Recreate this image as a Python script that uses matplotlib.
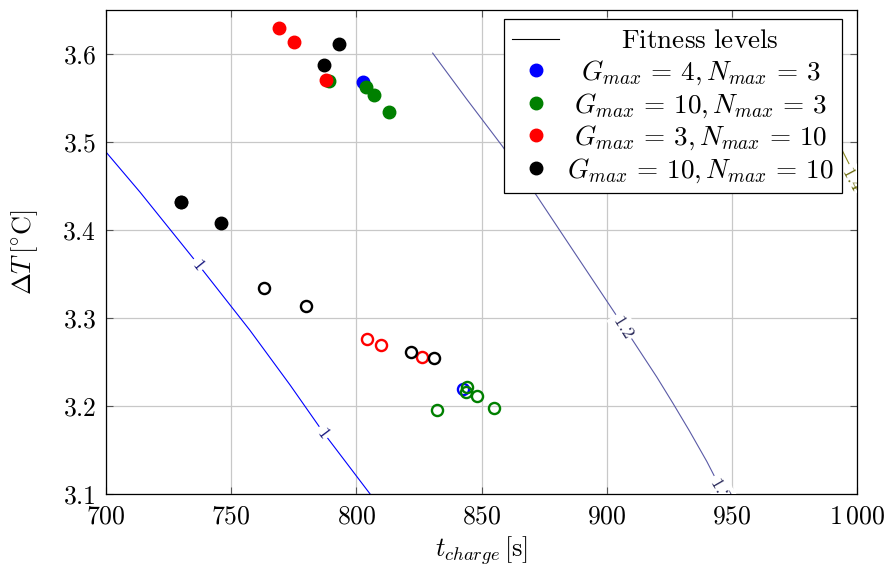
import numpy as np
import matplotlib.pyplot as plt
from matplotlib.lines import Line2D
from matplotlib.ticker import FuncFormatter

plt.rcParams['mathtext.fontset'] = 'cm'
plt.rcParams['font.family'] = ['DejaVu Serif']

# fitness contour lines
lvl1_x = [700, 713.6, 736.8, 757.5, 773.5, 786.8, 805.5]
lvl1_y = [3.4886, 3.443, 3.361, 3.286, 3.224, 3.170, 3.100]
lvl12_x = [830.5, 844.0, 858.4, 871.8, 887.0, 903.4, 920.0, 926.5, 933.0, 940.0, 946.7]
lvl12_y = [3.601, 3.549, 3.495, 3.440, 3.375, 3.305, 3.233, 3.203, 3.172, 3.137, 3.100]
lvl14_x = [975.0, 994.0, 1004.0]
lvl14_y = [3.600, 3.491, 3.435]
level_labels = [
    (736.8, 3.361, '1', -51, '#1a1a80'),
    (786.8, 3.170, '1', -53, '#1a1a80'),
    (906.7, 3.290, '1.2', -58, '#2c2c5c'),
    (945.5, 3.106, '1.2', -60, '#2c2c5c'),
    (998.0, 3.458, '1.4', -62, '#6b6b10'),
]

# optimisation results: filled = one set, hollow = other set
blue_fill_x, blue_fill_y = [802.8], [3.568]
blue_open_x, blue_open_y = [842.8], [3.219]
green_fill_x = [789.2, 803.9, 807.0, 813.1]
green_fill_y = [3.569, 3.563, 3.553, 3.534]
green_open_x = [844.1, 843.8, 848.1, 855.0, 832.1]
green_open_y = [3.222, 3.216, 3.211, 3.198, 3.196]
red_fill_x = [769.1, 775.0, 787.9]
red_fill_y = [3.630, 3.614, 3.571]
red_open_x = [804.1, 809.9, 826.1]
red_open_y = [3.276, 3.269, 3.256]
black_fill_x = [730.0, 745.9, 787.0, 793.0]
black_fill_y = [3.432, 3.408, 3.587, 3.611]
black_open_x = [730.0, 763.0, 779.9, 821.7, 831.0]
black_open_y = [3.432, 3.334, 3.314, 3.261, 3.255]

series = [
    ('blue', blue_fill_x, blue_fill_y, blue_open_x, blue_open_y, r'$G_{max} \,=\, 4, N_{max} \,=\, 3$'),
    ('green', green_fill_x, green_fill_y, green_open_x, green_open_y, r'$G_{max} \,=\, 10, N_{max} \,=\, 3$'),
    ('red', red_fill_x, red_fill_y, red_open_x, red_open_y, r'$G_{max} \,=\, 3, N_{max} \,=\, 10$'),
    ('black', black_fill_x, black_fill_y, black_open_x, black_open_y, r'$G_{max} \,=\, 10, N_{max} \,=\, 10$'),
]
colors = {'blue': '#0000ff', 'green': '#008000', 'red': '#ff0000', 'black': '#000000'}

fig = plt.figure(figsize=(8.9, 5.69), dpi=100)
ax = fig.add_axes([106 / 890, 1 - 494 / 569, 751 / 890, 484 / 569])

ax.plot(lvl1_x, lvl1_y, color='#0000ff', lw=0.8, zorder=2)
ax.plot(lvl12_x, lvl12_y, color='#5a5aa6', lw=0.8, zorder=2)
ax.plot(lvl14_x, lvl14_y, color='#8a8a20', lw=0.8, zorder=2)
for x, y, s, rot, c in level_labels:
    ax.text(x, y, '$' + s + '$', rotation=rot, color=c, fontsize=13,
            ha='center', va='center', rotation_mode='anchor', clip_on=True, zorder=3,
            bbox=dict(facecolor='white', edgecolor='none', pad=1.5))

handles = [Line2D([], [], color='black', lw=0.8)]
labels = [r'$\mathrm{Fitness\ levels}$']
for name, fx, fy, ox, oy, lab in series:
    c = colors[name]
    h, = ax.plot(fx, fy, 'o', color=c, ms=9, mec=c, zorder=4)
    ax.plot(ox, oy, 'o', mfc='none', mec=c, ms=8, mew=1.7, zorder=4)
    handles.append(h)
    labels.append(lab)

ax.set_xlim(700, 1000)
ax.set_ylim(3.1, 3.65)
ax.set_xticks([700, 750, 800, 850, 900, 950, 1000])
ax.set_yticks([3.1, 3.2, 3.3, 3.4, 3.5, 3.6])
ax.xaxis.set_major_formatter(FuncFormatter(
    lambda v, p: r'$1\,000$' if v >= 1000 else '$%d$' % v))
ax.yaxis.set_major_formatter(FuncFormatter(lambda v, p: '$%.1f$' % v))
ax.tick_params(direction='in', top=True, right=True, length=5, width=0.8,
               color='#555555', labelsize=18.5, pad=7)
ax.grid(True, color='#c8c8c8', lw=0.9)
ax.set_axisbelow(True)
for sp in ax.spines.values():
    sp.set_linewidth(0.9)

ax.set_xlabel(r'$t_{charge}\,[\mathrm{s}]$', fontsize=19, labelpad=4)
ax.set_ylabel(r'$\Delta T\,[^{\circ}\mathrm{C}]$', fontsize=19, labelpad=16)

leg = ax.legend(handles, labels, loc='upper right', bbox_to_anchor=(0.98, 0.981),
                borderaxespad=0, fontsize=19.6, frameon=True, fancybox=False,
                edgecolor='black', framealpha=1, handlelength=1.7, handletextpad=0.3,
                labelspacing=0.15, borderpad=0.3)
leg.get_frame().set_linewidth(0.9)

# centre the legend texts like pgfplots does
fig.canvas.draw()
r = fig.canvas.get_renderer()
widths = [t.get_window_extent(r).width for t in leg.get_texts()]
wmax = max(widths)
for t, w in zip(leg.get_texts(), widths):
    t.set_position(((wmax - w) / 2, 0))

fig.savefig('out.png', dpi=100)
